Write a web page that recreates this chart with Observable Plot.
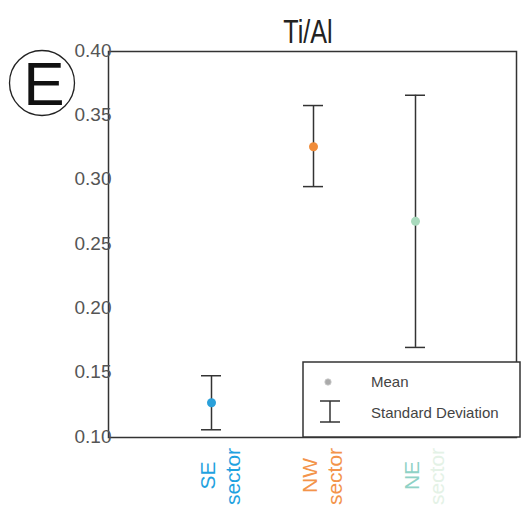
<!DOCTYPE html>
<html>
<head>
<meta charset="utf-8">
<script src="https://cdn.jsdelivr.net/npm/d3@7"></script>
<script src="https://cdn.jsdelivr.net/npm/@observablehq/plot@0.6"></script>
<style>
  html, body { margin: 0; padding: 0; background: #fff; }
  #wrap { position: relative; width: 523px; height: 515px; font-family: "Liberation Sans", Arial, sans-serif; }
  #wrap > svg { position: absolute; left: 0; top: 0; }
</style>
</head>
<body>
<div id="wrap"></div>
<script>
const categories = ["SE", "NW", "NE"];
const means = [0.127, 0.326, 0.268];
const sdLow = [0.106, 0.295, 0.170];
const sdHigh = [0.148, 0.358, 0.366];
const labelLine1 = ["SE", "NW", "NE"];
const labelLine2 = ["sector", "sector", "sector"];
const pointColors = ["#2aa0da", "#f08c3a", "#a9dabd"];
const labelColors1 = ["#1fa2e0", "#f3944a", "#8fd2c6"];
const labelColors2 = ["#1fa2e0", "#f3944a", "#e4f2e6"];
const yTicks = [0.10, 0.15, 0.20, 0.25, 0.30, 0.35, 0.40];

const data = categories.map((c, i) => ({
  cat: c, mean: means[i], lo: sdLow[i], hi: sdHigh[i],
  l1: labelLine1[i], l2: labelLine2[i],
  pc: pointColors[i], c1: labelColors1[i], c2: labelColors2[i]
}));

const fmt = d3.format(".2f");

const chart = Plot.plot({
  width: 523,
  height: 515,
  marginLeft: 108,
  marginRight: 7,
  marginTop: 51,
  marginBottom: 78,
  style: { fontFamily: "Liberation Sans, Arial, sans-serif", background: "transparent", overflow: "visible" },
  x: { type: "band", domain: categories, range: [108, 519], paddingInner: 0.8, paddingOuter: 0.9, axis: null },
  y: { domain: [0.10, 0.40], axis: null },
  color: { type: "identity" },
  marks: [
    Plot.frame({ stroke: "#333", strokeWidth: 1.5 }),
    Plot.axisY({ ticks: yTicks, tickFormat: fmt, tickSize: 0, tickPadding: -3, fontSize: 19, fill: "#555", label: null, dy: -1 }),
    Plot.ruleX(data, { x: "cat", y1: "lo", y2: "hi", stroke: "#333", strokeWidth: 1.5 }),
    Plot.tickY(data, { x: "cat", y: "lo", stroke: "#333", strokeWidth: 1.5 }),
    Plot.tickY(data, { x: "cat", y: "hi", stroke: "#333", strokeWidth: 1.5 }),
    Plot.dot(data, { x: "cat", y: "mean", r: 4.5, fill: "pc", stroke: "none" }),
    Plot.text(data, { x: "cat", frameAnchor: "bottom", text: "l1", rotate: -90, dy: 38, dx: -3.5, fontSize: 21, fill: "c1", textAnchor: "middle", lineAnchor: "middle" }),
    Plot.text(data, { x: "cat", frameAnchor: "bottom", text: "l2", rotate: -90, dy: 39, dx: 22, fontSize: 21, fill: "c2", textAnchor: "middle", lineAnchor: "middle" })
  ]
});
document.getElementById("wrap").appendChild(chart);

// Decorations: title, panel letter, legend
const ns = "http://www.w3.org/2000/svg";
const deco = document.createElementNS(ns, "svg");
deco.setAttribute("width", 523);
deco.setAttribute("height", 515);
deco.style.fontFamily = "Liberation Sans, Arial, sans-serif";
deco.innerHTML = `
  <text transform="translate(308,43) scale(0.74,1)" text-anchor="middle" font-size="34" fill="#222">Ti/Al</text>
  <circle cx="42" cy="83" r="32.5" fill="none" stroke="#222" stroke-width="1.3"></circle>
  <text x="44" y="105" text-anchor="middle" font-size="62" fill="#111">E</text>
  <rect x="303" y="362" width="217" height="75" fill="#fff" stroke="#333" stroke-width="1.5"></rect>
  <circle cx="328" cy="382" r="3.2" fill="#aaa" stroke="#ccc" stroke-width="0.8"></circle>
  <text x="371" y="387" font-size="15" fill="#444">Mean</text>
  <line x1="330" y1="401" x2="330" y2="422" stroke="#333" stroke-width="1.5"></line>
  <line x1="320" y1="401" x2="340" y2="401" stroke="#333" stroke-width="1.5"></line>
  <line x1="320" y1="422" x2="340" y2="422" stroke="#333" stroke-width="1.5"></line>
  <text x="371" y="418" font-size="15" fill="#444">Standard Deviation</text>
`;
document.getElementById("wrap").appendChild(deco);
</script>
</body>
</html>
